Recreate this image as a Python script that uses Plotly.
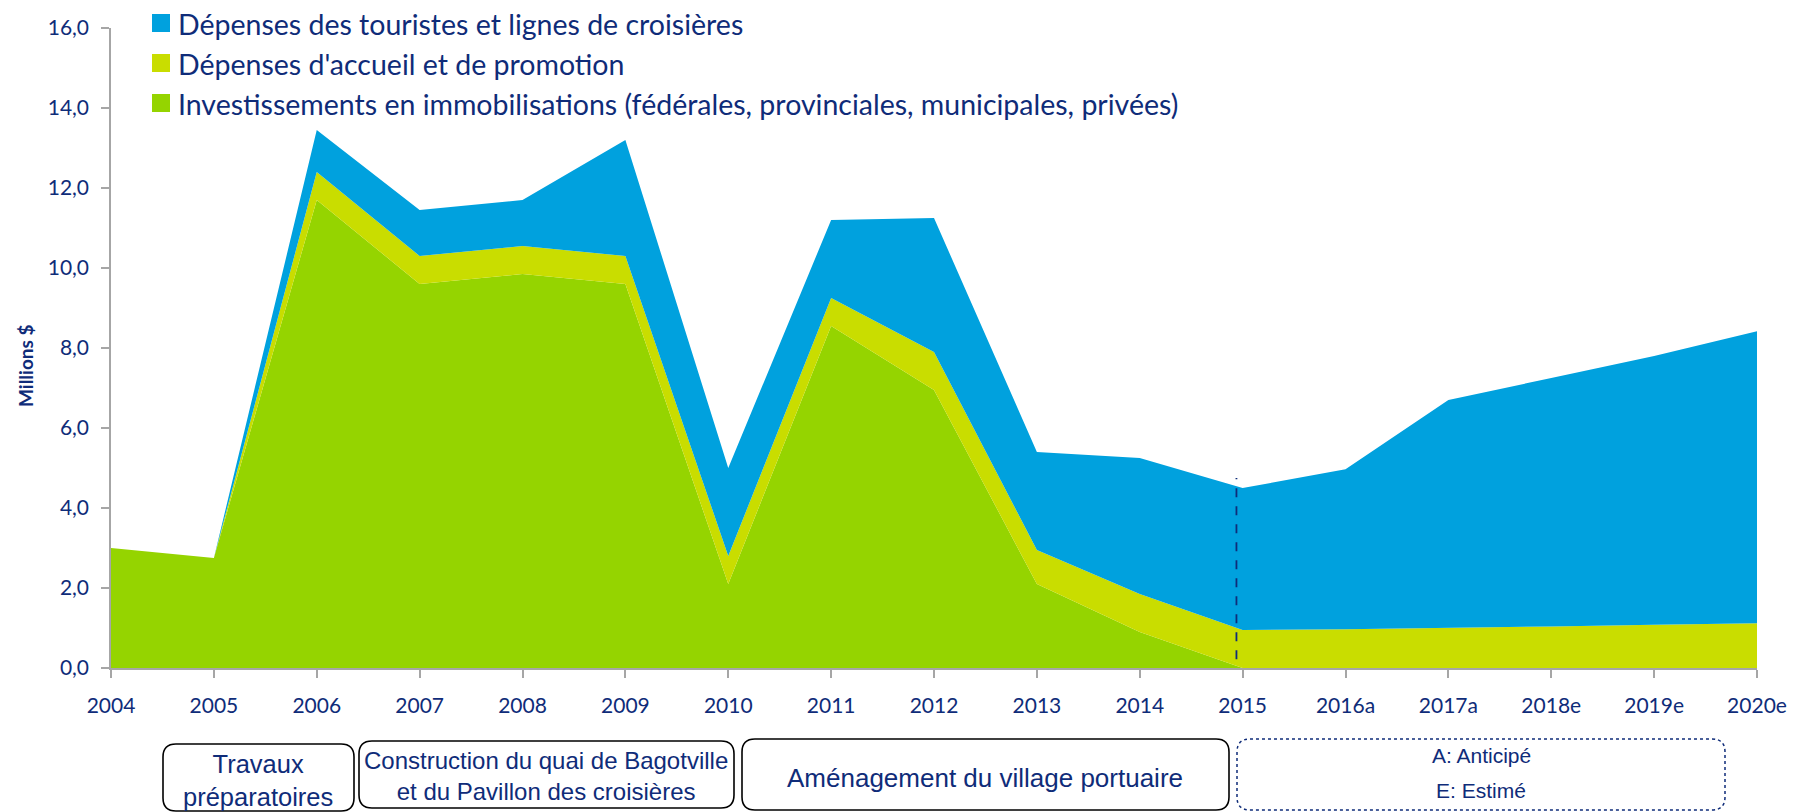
import plotly.graph_objects as go

# ---------------- data ----------------
years = ["2004", "2005", "2006", "2007", "2008", "2009", "2010", "2011", "2012",
         "2013", "2014", "2015", "2016a", "2017a", "2018e", "2019e", "2020e"]
investissements = [3.0, 2.75, 11.7, 9.6, 9.85, 9.6, 2.1, 8.55, 6.95,
                   2.1, 0.9, 0.0, 0.0, 0.0, 0.0, 0.0, 0.0]
accueil_promotion = [0.0, 0.0, 0.7, 0.7, 0.7, 0.7, 0.7, 0.7, 0.95,
                     0.85, 0.95, 0.95, 0.97, 1.0, 1.04, 1.08, 1.12]
touristes_croisieres = [0.0, 0.0, 1.05, 1.15, 1.15, 2.9, 2.2, 1.95, 3.35,
                        2.45, 3.4, 3.55, 4.0, 5.7, 6.21, 6.72, 7.3]

series_names = [
    "Dépenses des touristes et lignes de croisières",
    "Dépenses d'accueil et de promotion",
    "Investissements en immobilisations (fédérales, provinciales, municipales, privées)",
]
y_tick_values = [0, 2, 4, 6, 8, 10, 12, 14, 16]
y_tick_labels = ["0,0", "2,0", "4,0", "6,0", "8,0", "10,0", "12,0", "14,0", "16,0"]
y_title = "Millions $"

phase_labels = ["Travaux<br>préparatoires",
                "Construction du quai de Bagotville<br>et du Pavillon des croisières",
                "Aménagement du village portuaire"]
note_labels = ["A: Anticipé", "E: Estimé"]

# forecast marker (dashed line near 2015)
forecast_index = years.index("2015")
forecast_low, forecast_high = 0.22, 4.75

# ---------------- style ----------------
BLUE = "#00A1DE"
YELLOW = "#C9DD00"
GREEN = "#95D400"
NAVY = "#0F2C79"
AXIS_GREY = "#A6A6A6"
TICK_FONT = "Lato"
BOX_FONT = "Liberation Sans"

OFF = 8                      # page body margin in the browser
W, H = 1800, 804
ML, MT = 103, 20
PW, PH = 1646, 640
MR = W - ML - PW
MB = H - MT - PH


def px(xp):
    """reference-window x pixel -> paper x"""
    return (xp - OFF - ML) / PW


def py(yp):
    """reference-window y pixel -> paper y"""
    return (MT + PH - (yp - OFF)) / PH


x_idx = list(range(len(years)))

fig = go.Figure()
for vals, name, color in [(investissements, series_names[2], GREEN),
                          (accueil_promotion, series_names[1], YELLOW),
                          (touristes_croisieres, series_names[0], BLUE)]:
    fig.add_trace(go.Scatter(
        x=x_idx, y=vals, name=name, stackgroup="one", mode="lines",
        line=dict(width=0, color=color), fillcolor=color, showlegend=False,
        hoverinfo="x+y+name",
    ))

shapes = []
annotations = []

# dashed forecast line
shapes.append(dict(type="line", xref="x", yref="y",
                   x0=forecast_index - 0.06, x1=forecast_index - 0.06,
                   y0=forecast_low, y1=forecast_high,
                   line=dict(color=NAVY, width=1.8, dash="dash")))

# manual legend
legend_rows = [(series_names[0], BLUE, 23), (series_names[1], YELLOW, 63), (series_names[2], GREEN, 103)]
for name, color, cy in legend_rows:
    shapes.append(dict(type="rect", xref="paper", yref="paper",
                       x0=px(152), x1=px(170), y0=py(cy - 9), y1=py(cy + 9),
                       fillcolor=color, line=dict(width=0)))
    annotations.append(dict(text=name, xref="paper", yref="paper", x=px(177), y=py(cy + 1),
                            xanchor="left", yanchor="middle", showarrow=False, borderpad=0,
                            font=dict(family=TICK_FONT, size=28.5, color=NAVY)))

# y axis title
annotations.append(dict(text="<b>" + y_title + "</b>", xref="paper", yref="paper",
                        x=px(25), y=py(366), textangle=-90, showarrow=False,
                        xanchor="center", yanchor="middle",
                        font=dict(family=TICK_FONT, size=19, color=NAVY)))


def rounded_box(x0, y0, x1, y1, r):
    rx, ry = r / PW, r / PH
    X0, X1, Yb, Yt = px(x0), px(x1), py(y1), py(y0)
    return (f"M {X0+rx},{Yt} L {X1-rx},{Yt} Q {X1},{Yt} {X1},{Yt-ry} "
            f"L {X1},{Yb+ry} Q {X1},{Yb} {X1-rx},{Yb} L {X0+rx},{Yb} "
            f"Q {X0},{Yb} {X0},{Yb+ry} L {X0},{Yt-ry} Q {X0},{Yt} {X0+rx},{Yt} Z")


boxes = [
    (163, 744, 354, 811, dict(color="#000000", width=1.6)),
    (359, 741, 734, 808, dict(color="#000000", width=1.6)),
    (742, 739, 1229, 810, dict(color="#000000", width=1.6)),
    (1237, 739, 1725, 810, dict(color=NAVY, width=1.5, dash="dot")),
]
for x0, y0, x1, y1, ln in boxes:
    shapes.append(dict(type="path", xref="paper", yref="paper",
                       path=rounded_box(x0, y0, x1, y1, 13), line=ln,
                       fillcolor="rgba(0,0,0,0)"))

box_texts = [
    (phase_labels[0], 258, 780, 25.5),
    (phase_labels[1], 546, 776, 24),
    (phase_labels[2], 985, 778, 26),
    (note_labels[0], 1481, 755, 21),
    (note_labels[1], 1481, 790, 21),
]
for txt, cx, cy, size in box_texts:
    annotations.append(dict(text=txt, xref="paper", yref="paper", x=px(cx), y=py(cy),
                            xanchor="center", yanchor="middle", showarrow=False,
                            align="center", borderpad=0,
                            font=dict(family=BOX_FONT, size=size, color=NAVY)))

fig.update_layout(
    width=W, height=H,
    margin=dict(l=ML, r=MR, t=MT, b=MB, pad=0),
    paper_bgcolor="white", plot_bgcolor="white",
    showlegend=False,
    shapes=shapes,
    annotations=annotations,
    xaxis=dict(range=[0, len(years) - 1], tickvals=x_idx, ticktext=years,
               showgrid=False, zeroline=False, showline=True, linecolor=AXIS_GREY,
               linewidth=1.5, ticks="outside", ticklen=8, tickcolor=AXIS_GREY,
               tickwidth=1.5, ticklabelstandoff=10, automargin=False,
               tickfont=dict(family=TICK_FONT, size=21, color=NAVY)),
    yaxis=dict(range=[0, 16], tickvals=y_tick_values, ticktext=y_tick_labels,
               showgrid=False, zeroline=False, showline=True, linecolor=AXIS_GREY,
               linewidth=1.5, ticks="outside", ticklen=8, tickcolor=AXIS_GREY,
               tickwidth=1.5, ticklabelstandoff=8, automargin=False,
               tickfont=dict(family=TICK_FONT, size=21, color=NAVY)),
)

fig.write_html("out.html")
